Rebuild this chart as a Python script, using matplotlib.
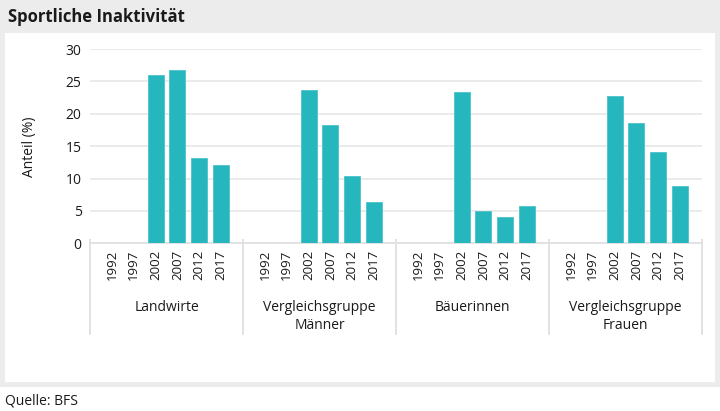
import numpy as np
import matplotlib
matplotlib.use('Agg')
import matplotlib.pyplot as plt
from matplotlib.patches import Rectangle
import matplotlib.transforms as mtransforms

plt.rcParams['font.family'] = ['Open Sans', 'DejaVu Sans']

# data
groups = ['Landwirte', 'Vergleichsgruppe\nMänner', 'Bäuerinnen', 'Vergleichsgruppe\nFrauen']
years = ['1992', '1997', '2002', '2007', '2012', '2017']
values = {
    'Landwirte': [None, None, 26.0, 26.7, 13.1, 12.1],
    'Vergleichsgruppe\nMänner': [None, None, 23.7, 18.2, 10.4, 6.3],
    'Bäuerinnen': [None, None, 23.3, 5.0, 4.1, 5.7],
    'Vergleichsgruppe\nFrauen': [None, None, 22.8, 18.5, 14.1, 8.9],
}
yticks = [0, 5, 10, 15, 20, 25, 30]

bar_col = '#26b6bd'
grid_col = '#e8e8e8'
txt_col = '#1a1a1a'

fig = plt.figure(figsize=(7.2, 4.11), dpi=100)
fig.patch.set_facecolor('white')

# grey frame and white panel
fig.patches.append(Rectangle((0, 1 - 387/411), 1, 387/411, transform=fig.transFigure,
                             facecolor='#ececec', edgecolor='none', zorder=-10))
fig.patches.append(Rectangle((5/720, 1 - 382/411), 710/720, 349/411, transform=fig.transFigure,
                             facecolor='white', edgecolor='none', zorder=-9))

ax = fig.add_axes([90/720, 1 - 243.3/411, 612/720, 194.3/411])
ax.set_facecolor('none')

n = len(years) + 1
pos, labs = [], []
for g, grp in enumerate(groups):
    for i, yr in enumerate(years):
        x = g * n + 1 + i
        pos.append(x)
        labs.append(yr)
        v = values[grp][i]
        if v is not None:
            ax.bar(x, v, width=0.73, color=bar_col, edgecolor='#4cc3c9', linewidth=0.6, zorder=3)

ax.set_xlim(0, n * len(groups))
ax.set_ylim(0, 30)
ax.set_yticks(yticks)
ax.set_yticklabels([str(t) for t in yticks], fontsize=10, color=txt_col)
ax.set_xticks(pos)
ax.set_xticklabels(labs, rotation=90, fontsize=9.5, color=txt_col)
ax.tick_params(axis='both', length=0)
ax.tick_params(axis='y', pad=6)
ax.tick_params(axis='x', pad=4.5)
ax.yaxis.grid(True, color=grid_col, linewidth=1.2, zorder=0)
ax.set_axisbelow(True)
for s in ['top', 'right', 'left']:
    ax.spines[s].set_visible(False)
ax.spines['bottom'].set_color('#e2e2e2')
ax.spines['bottom'].set_linewidth(1.4)

trans = mtransforms.blended_transform_factory(ax.transData, ax.transAxes)
for g in range(len(groups) + 1):
    ax.plot([g * n, g * n], [0.015, -0.465], transform=trans, color='#e2e2e2',
            linewidth=1.4, clip_on=False, zorder=1)
for g, grp in enumerate(groups):
    ax.text(g * n + n / 2, -0.29, grp, transform=trans, ha='center', va='top',
            fontsize=10, color=txt_col, linespacing=1.35)

fig.text(30/720, 1 - 147/411, 'Anteil (%)', rotation=90, ha='center', va='center',
         fontsize=10, color=txt_col)
fig.text(8/720, 1 - 17/411, 'Sportliche Inaktivität', ha='left', va='center',
         fontsize=12, fontweight='bold', color=txt_col)
fig.text(5/720, 1 - 401/411, 'Quelle: BFS', ha='left', va='center',
         fontsize=10, color=txt_col)

fig.savefig('out.png', dpi=100)
